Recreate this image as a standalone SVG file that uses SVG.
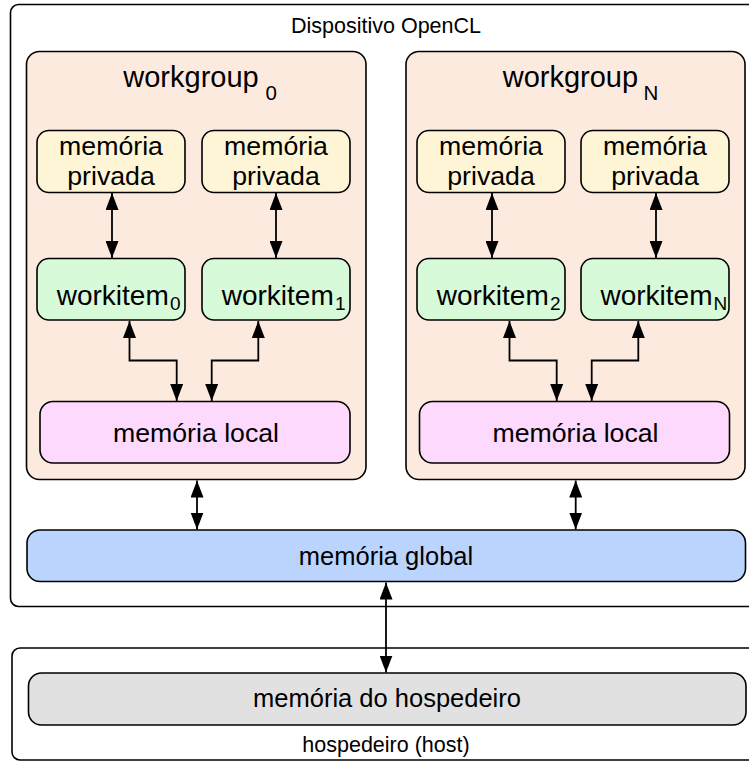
<svg xmlns="http://www.w3.org/2000/svg" width="749" height="762" viewBox="0 0 749 762">
  <style>
    .box { stroke: #000; stroke-width: 1.6; }
    .frame { fill: #fff; stroke: #000; stroke-width: 1.6; }
    .wg { fill: #fdeade; }
    .priv { fill: #fef5d6; }
    .item { fill: #d7fad9; }
    .local { fill: #fcd9fd; }
    .global { fill: #bad4fe; }
    .hostmem { fill: #e1e1e1; }
    text { font-family: "Liberation Sans", Arial, Helvetica, sans-serif; fill: #000; }
    .lbl { font-size: 21.5px; text-anchor: middle; }
    .big { font-size: 26.7px; text-anchor: middle; }
    .mid { font-size: 25.5px; text-anchor: middle; }
    .title { font-size: 29px; }
    .tsub { font-size: 20.5px; }
    .item-t { font-size: 28px; }
    .isub { font-size: 19px; }
    .conn { fill: none; stroke: #000; stroke-width: 1.8; }
  </style>
  <defs>
    <marker id="head-end" markerUnits="userSpaceOnUse" markerWidth="17" markerHeight="13" refX="17" refY="6.5" orient="auto">
      <path d="M0,0 L17,6.5 L0,13 Z" fill="#000"/>
    </marker>
    <marker id="head-start" markerUnits="userSpaceOnUse" markerWidth="17" markerHeight="13" refX="0" refY="6.5" orient="auto">
      <path d="M17,0 L0,6.5 L17,13 Z" fill="#000"/>
    </marker>
  </defs>

  <!-- OpenCL device frame -->
  <g id="device">
    <rect class="frame" x="10.5" y="4.5" width="760" height="602" rx="8"/>
    <text class="lbl" x="386" y="32.5">Dispositivo OpenCL</text>
  </g>

  <!-- host frame -->
  <g id="host">
    <rect class="frame" x="12" y="648" width="760" height="112" rx="8"/>
    <text class="lbl" x="386" y="751.5">hospedeiro (host)</text>
  </g>

  <!-- workgroup 0 -->
  <g id="workgroup0">
    <rect class="box wg" x="26.5" y="51.5" width="339.5" height="428" rx="13"/>
    <text class="title" x="123.3" y="87">workgroup</text>
    <text class="tsub" x="265.5" y="99.5">0</text>
  </g>

  <!-- workgroup N -->
  <g id="workgroupN">
    <rect class="box wg" x="406" y="51.5" width="339" height="428" rx="13"/>
    <text class="title" x="502.7" y="86.5">workgroup</text>
    <text class="tsub" x="643.5" y="100">N</text>
  </g>

  <!-- private memories -->
  <g id="priv0">
    <rect class="box priv" x="37" y="130.5" width="148" height="62" rx="12"/>
    <text class="big" x="111" y="155">memória</text>
    <text class="big" x="111" y="185">privada</text>
  </g>
  <g id="priv1">
    <rect class="box priv" x="202" y="130.5" width="148" height="62" rx="12"/>
    <text class="big" x="276" y="155">memória</text>
    <text class="big" x="276" y="185">privada</text>
  </g>
  <g id="priv2">
    <rect class="box priv" x="417" y="130.5" width="148" height="62" rx="12"/>
    <text class="big" x="491" y="155">memória</text>
    <text class="big" x="491" y="185">privada</text>
  </g>
  <g id="privN">
    <rect class="box priv" x="581" y="130.5" width="148" height="62" rx="12"/>
    <text class="big" x="655" y="155">memória</text>
    <text class="big" x="655" y="185">privada</text>
  </g>

  <!-- work items -->
  <g id="workitem0">
    <rect class="box item" x="37" y="258.5" width="148" height="61.5" rx="12"/>
    <text class="item-t" x="56.7" y="305">workitem</text>
    <text class="isub" x="170" y="310">0</text>
  </g>
  <g id="workitem1">
    <rect class="box item" x="202" y="258.5" width="148" height="61.5" rx="12"/>
    <text class="item-t" x="221.7" y="305">workitem</text>
    <text class="isub" x="335" y="310">1</text>
  </g>
  <g id="workitem2">
    <rect class="box item" x="417" y="258.5" width="148" height="61.5" rx="12"/>
    <text class="item-t" x="436.7" y="305">workitem</text>
    <text class="isub" x="550" y="310">2</text>
  </g>
  <g id="workitemN">
    <rect class="box item" x="581" y="258.5" width="148" height="61.5" rx="12"/>
    <text class="item-t" x="600.5" y="305">workitem</text>
    <text class="isub" x="713.5" y="310">N</text>
  </g>

  <!-- local memories -->
  <g id="local0">
    <rect class="box local" x="40" y="401.5" width="310" height="61.5" rx="13"/>
    <text class="big" x="196" y="442">memória local</text>
  </g>
  <g id="localN">
    <rect class="box local" x="419.5" y="401.5" width="310" height="61.5" rx="13"/>
    <text class="big" x="575.5" y="442">memória local</text>
  </g>

  <!-- global memory -->
  <g id="global">
    <rect class="box global" x="27" y="530" width="718.5" height="51.5" rx="13"/>
    <text class="mid" x="386" y="565">memória global</text>
  </g>

  <!-- host memory -->
  <g id="hostmem">
    <rect class="box hostmem" x="28.5" y="673" width="717.5" height="52" rx="13"/>
    <text class="mid" x="387" y="706.5">memória do hospedeiro</text>
  </g>

  <!-- connectors -->
  <g id="connectors" class="conn">
    <path class="conn" d="M112,193 L112,258" marker-start="url(#head-start)" marker-end="url(#head-end)"/>
    <path class="conn" d="M276,193 L276,258" marker-start="url(#head-start)" marker-end="url(#head-end)"/>
    <path class="conn" d="M492,193 L492,258" marker-start="url(#head-start)" marker-end="url(#head-end)"/>
    <path class="conn" d="M656,193 L656,258" marker-start="url(#head-start)" marker-end="url(#head-end)"/>

    <path class="conn" d="M129.5,321 L129.5,360.5 L176.7,360.5 L176.7,401" marker-start="url(#head-start)" marker-end="url(#head-end)"/>
    <path class="conn" d="M258.3,321 L258.3,360.5 L211.7,360.5 L211.7,401" marker-start="url(#head-start)" marker-end="url(#head-end)"/>
    <path class="conn" d="M509.5,321 L509.5,360.5 L556.7,360.5 L556.7,401" marker-start="url(#head-start)" marker-end="url(#head-end)"/>
    <path class="conn" d="M638.3,321 L638.3,360.5 L591.7,360.5 L591.7,401" marker-start="url(#head-start)" marker-end="url(#head-end)"/>

    <path class="conn" d="M197,480.5 L197,529.5" marker-start="url(#head-start)" marker-end="url(#head-end)"/>
    <path class="conn" d="M575.7,480.5 L575.7,529.5" marker-start="url(#head-start)" marker-end="url(#head-end)"/>

    <path class="conn" d="M386,582.5 L386,672.5" marker-start="url(#head-start)" marker-end="url(#head-end)"/>
  </g>
</svg>
